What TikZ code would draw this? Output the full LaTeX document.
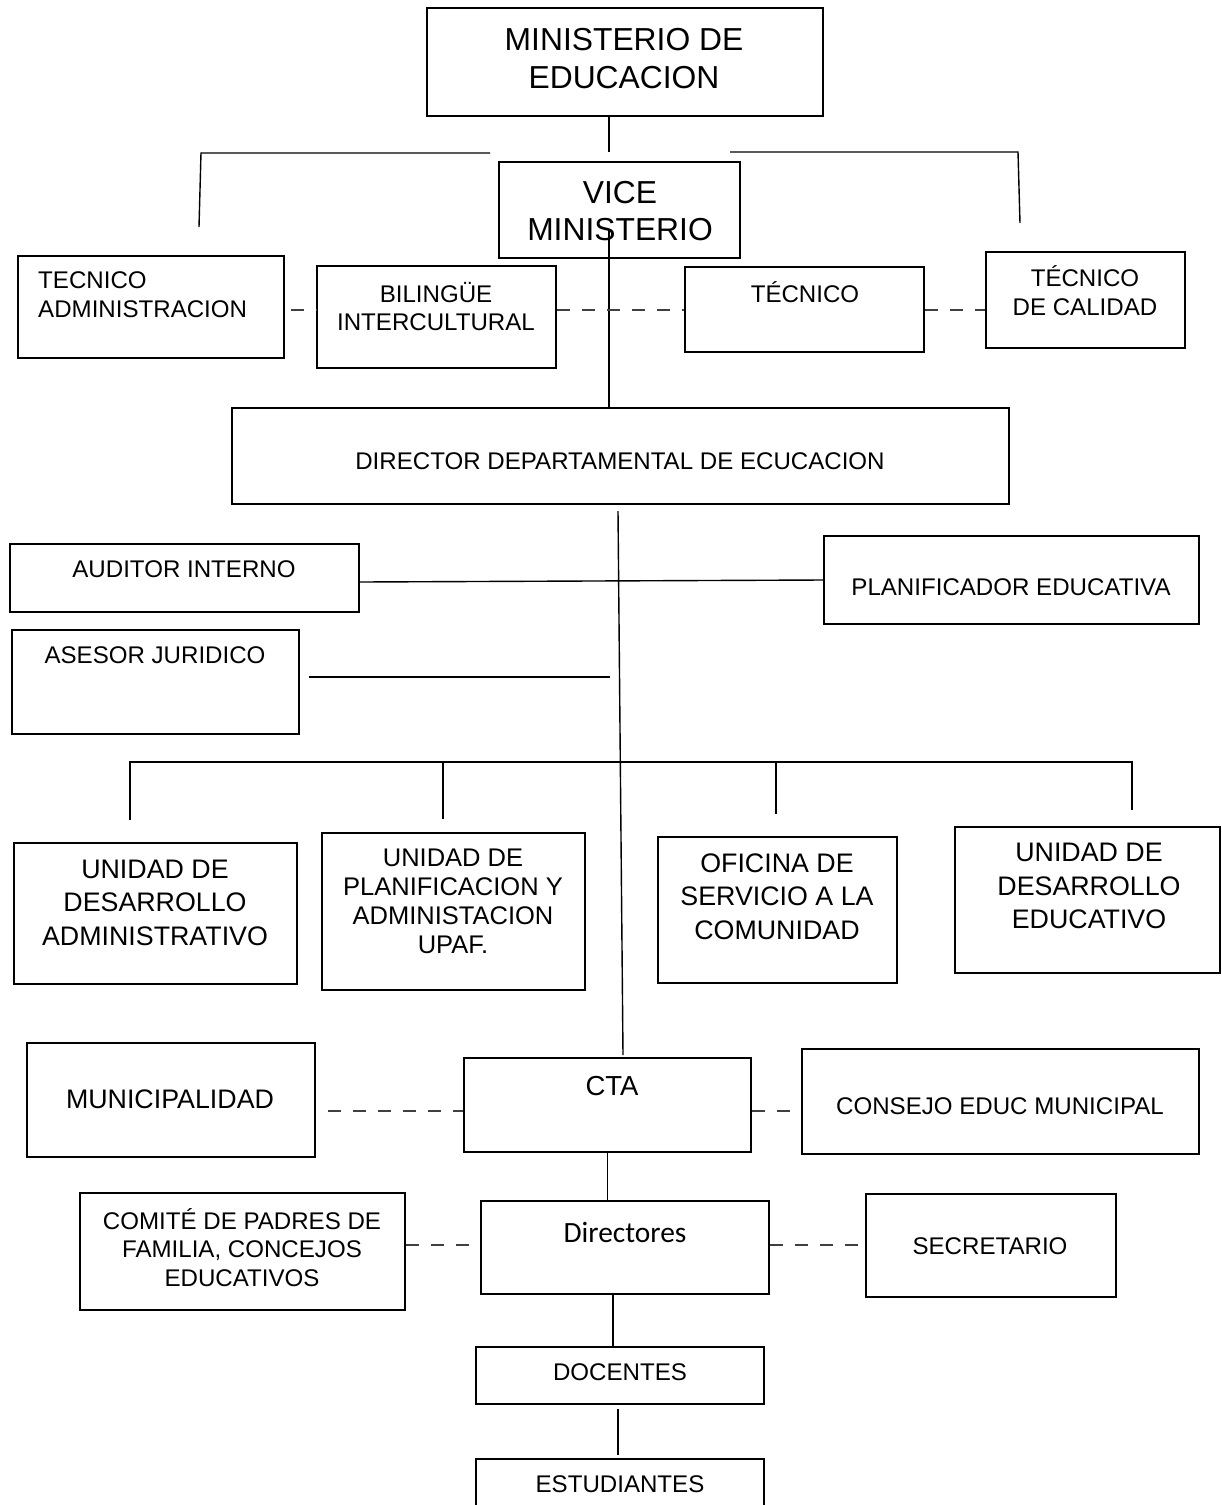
\documentclass[tikz,border=0pt]{standalone}
\usepackage{fontspec}
\setmainfont{Liberation Sans}
\newfontfamily\calfont{Carlito}
\usepackage{tikz}
\usetikzlibrary{calc}

\begin{document}
\begin{tikzpicture}[x=1pt, y=-1pt,
			line join=miter, line cap=butt,
			box/.style = {draw, line width=1.8pt, inner sep=0pt},
			lbl/.style = {align=center, inner sep=0pt},
			sm/.style = {font=\fontsize{24.1}{28.8}\selectfont},
			md/.style = {font=\fontsize{26.8}{33.5}\selectfont},
			lg/.style = {font=\fontsize{31.8}{37.5}\selectfont},
			link/.style = {line width=1.4pt},
			dashline/.style = {line width=1.1pt, black!75, dash pattern=on 13pt off 12pt}
			]
			\useasboundingbox (0,0) rectangle (1222,1505);
			% boxes
			\node[box, minimum width=396, minimum height=108] (mined) at (625,62) {};
			\node[box, minimum width=241, minimum height=96] (vice) at (619.5,210) {};
			\node[box, minimum width=266, minimum height=102] (tecadm) at (151,307) {};
			\node[box, minimum width=239, minimum height=102] (biling) at (436.5,317) {};
			\node[box, minimum width=239, minimum height=85] (tecn) at (804.5,309.5) {};
			\node[box, minimum width=199, minimum height=96] (teccal) at (1085.5,300) {};
			\node[box, minimum width=777, minimum height=96] (dirdep) at (620.5,456) {};
			\node[box, minimum width=349, minimum height=68] (audit) at (184.5,578) {};
			\node[box, minimum width=375, minimum height=88] (planif) at (1011.5,580) {};
			\node[box, minimum width=287, minimum height=104] (asesor) at (155.5,682) {};
			\node[box, minimum width=283, minimum height=141] (udadm) at (155.5,913.5) {};
			\node[box, minimum width=263, minimum height=157] (upaf) at (453.5,911.5) {};
			\node[box, minimum width=239, minimum height=146] (oficina) at (777.5,910) {};
			\node[box, minimum width=265, minimum height=146] (udedu) at (1087.5,900) {};
			\node[box, minimum width=288, minimum height=114] (munic) at (171,1100) {};
			\node[box, minimum width=287, minimum height=94] (cta) at (607.5,1105) {};
			\node[box, minimum width=397, minimum height=105] (consejo) at (1000.5,1101.5) {};
			\node[box, minimum width=325, minimum height=117] (comite) at (242.5,1251.5) {};
			\node[box, minimum width=288, minimum height=93] (direc) at (625,1247.5) {};
			\node[box, minimum width=250, minimum height=103] (secre) at (991,1245.5) {};
			\node[box, minimum width=288, minimum height=57] (docen) at (620,1375.5) {};
			\node[box, minimum width=288, minimum height=71] (estud) at (620,1494.5) {};
			% texts
			\node[lbl, lg] (mined-t) at (624,58.5) {MINISTERIO DE\\EDUCACION};
			\node[lbl, lg] (vice-t) at (620,211) {VICE\\MINISTERIO};
			\node[lbl, sm, align=left, anchor=west] (tecadm-t) at (38,295) {TECNICO\\ADMINISTRACION};
			\node[lbl, sm] (biling-t) at (436,306.5) {BILINGÜE\\INTERCULTURAL};
			\node[lbl, sm] (tecn-t) at (805,292) {TÉCNICO};
			\node[lbl, sm] (teccal-t) at (1085,291) {TÉCNICO\\DE CALIDAD};
			\node[lbl, sm] (dirdep-t) at (620,461) {DIRECTOR DEPARTAMENTAL DE ECUCACION};
			\node[lbl, sm] (audit-t) at (184,569) {AUDITOR INTERNO};
			\node[lbl, sm] (planif-t) at (1011,587) {PLANIFICADOR EDUCATIVA};
			\node[lbl, sm] (asesor-t) at (155,655) {ASESOR JURIDICO};
			\node[lbl, md] (udadm-t) at (155,902.5) {UNIDAD DE\\DESARROLLO\\ADMINISTRATIVO};
			\node[lbl, font=\fontsize{25.5}{29}\selectfont] (upaf-t) at (453,901.5)
				{UNIDAD DE\\PLANIFICACION Y\\ADMINISTACION\\UPAF.};
			\node[lbl, md] (oficina-t) at (777,896.5) {OFICINA DE\\SERVICIO A LA\\COMUNIDAD};
			\node[lbl, md] (udedu-t) at (1089,886) {UNIDAD DE\\DESARROLLO\\EDUCATIVO};
			\node[lbl, md] (munic-t) at (170,1099) {MUNICIPALIDAD};
			\node[lbl, font=\fontsize{27.5}{33}\selectfont] (cta-t) at (612,1086) {CTA};
			\node[lbl, sm] (consejo-t) at (1000,1106) {CONSEJO EDUC MUNICIPAL};
			\node[lbl, sm] (comite-t) at (242,1247.5) {COMITÉ DE PADRES DE\\FAMILIA, CONCEJOS\\EDUCATIVOS};
			\node[lbl, font=\calfont\fontsize{29.4}{34}\selectfont] (direc-t) at (625,1232) {Directores};
			\node[lbl, sm] (secre-t) at (990,1246) {SECRETARIO};
			\node[lbl, sm] (docen-t) at (620,1372) {DOCENTES};
			\node[lbl, sm] (estud-t) at (620,1484) {ESTUDIANTES};
			% free ends
			\coordinate (m1) at (609,152);
			\coordinate (barL) at (199,227);
			\coordinate (barR) at (1020,223);
			\coordinate (v1) at (609,230);
			\coordinate (dl) at (0,310);
			\coordinate (d1) at (618,511);
			\coordinate (c1) at (623,1055);
			\coordinate (a1) at (610,677);
			\coordinate (bL) at (130,762);
			\coordinate (bR) at (1132,762);
			\coordinate (dm) at ([xshift=12pt,yshift=-11pt]munic.east);
			\coordinate (dc) at (0,1245);
			\coordinate (dx) at (613,0);
			% connectors
			\draw[link] (m1 |- mined.south) -- (m1);
			\draw[link] (barL) -- (201,153) -- (490,153);
			\draw[link] (730,152) -- (1018,152) -- (barR);
			\draw[link] (v1) -- (v1 |- dirdep.north);
			\draw[dashline, dash phase=-6pt] (tecadm.east |- dl) -- (biling.west |- dl);
			\draw[dashline] (biling.east |- dl) -- (tecn.west |- dl);
			\draw[dashline] (tecn.east |- dl) -- (teccal.west |- dl);
			\draw[link] (d1) -- (c1);
			\draw[link] ([yshift=-4pt]audit.east) -- (planif.west);
			\draw[link] ([xshift=9pt,yshift=5pt]asesor.east) -- (a1);
			\draw[link] (130,820) -- (bL) -- (bR) -- (1132,810);
			\draw[link] (443,762) -- (443,819);
			\draw[link] (776,762) -- (776,814);
			\draw[dashline] (dm) -- (dm -| cta.west);
			\draw[dashline] (cta.east |- dm) -- (consejo.west |- dm);
			\draw[link] (cta.south) -- (cta.south |- direc.north);
			\draw[dashline] (comite.east |- dc) -- (direc.west |- dc);
			\draw[dashline] (direc.east |- dc) -- (secre.west |- dc);
			\draw[link] (direc.south -| dx) -- (docen.north -| dx);
			\draw[link] ([xshift=-2pt,yshift=-4pt]docen.south) -- ([xshift=-2pt,yshift=3pt]estud.north);
\end{tikzpicture}
\end{document}
